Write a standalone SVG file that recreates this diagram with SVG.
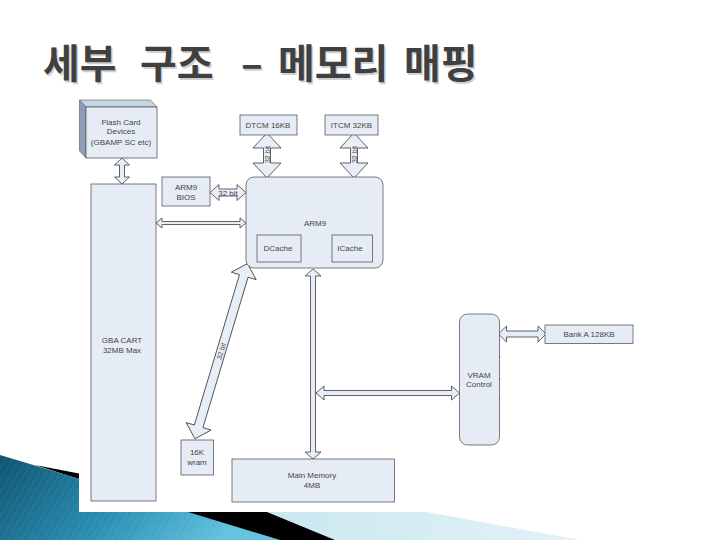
<svg xmlns="http://www.w3.org/2000/svg" width="720" height="540" viewBox="0 0 720 540">
<defs>
<linearGradient id="teal" x1="0" y1="0" x2="1" y2="0.3">
<stop offset="0" stop-color="#0f5470"/>
<stop offset="0.55" stop-color="#2a8fb3"/>
<stop offset="1" stop-color="#62c4de"/>
</linearGradient>
<linearGradient id="light" x1="0" y1="0" x2="1" y2="0">
<stop offset="0" stop-color="#bfe2ed"/>
<stop offset="1" stop-color="#e3f2f7"/>
</linearGradient>
<pattern id="hatch" width="6" height="6" patternUnits="userSpaceOnUse" patternTransform="rotate(30)">
<line x1="0" y1="0" x2="0" y2="6" stroke="#ffffff" stroke-opacity="0.12" stroke-width="1"/>
</pattern>
<style>
.box{fill:#e6ecf5;stroke:#5a5a5a;stroke-width:0.8}
.arw{fill:#e8eef7;stroke:#3c3c3c;stroke-width:0.8;stroke-linejoin:miter}
.t{font-family:"Liberation Sans",Arial,sans-serif;font-size:8px;fill:#444;text-anchor:middle}
.title{font-family:"Noto Sans CJK KR","Noto Sans",sans-serif;font-size:40px;font-weight:bold}
</style>
</defs>
<rect width="720" height="540" fill="#ffffff"/>
<g id="decoration">
<polygon points="120,478 427,512 580,540 335,540 267,512" fill="url(#light)"/>
<polygon points="35,465 190,495 267,512 335,540 270,540" fill="#000000"/>
<polygon points="0,455 60,473 280,540 0,540" fill="url(#teal)"/>
<polygon points="0,455 60,473 280,540 0,540" fill="url(#hatch)"/>
</g>
<rect id="image-bg" x="79" y="95" width="560" height="417" fill="#ffffff"/>
<g id="title">
<text class="title" y="78" fill="#d0d0d0" transform="translate(1.5,1.5)"><tspan x="43">세부</tspan><tspan x="140">구조</tspan><tspan x="241">–</tspan><tspan x="278">메모리</tspan><tspan x="404">매핑</tspan></text>
<text class="title" y="78" fill="#404040"><tspan x="43">세부</tspan><tspan x="140">구조</tspan><tspan x="241">–</tspan><tspan x="278">메모리</tspan><tspan x="404">매핑</tspan></text>
</g>
<g id="connectors">
<polygon class="arw" points="122,158 129.5,165 124.5,165 124.5,177 129.5,177 122,184 114.5,177 119.5,177 119.5,165 114.5,165"/>
<polygon class="arw" points="267,133 281,148 270.5,148 270.5,163 281,163 267,178 253,163 263.5,163 263.5,148 253,148"/>
<text class="t" style="font-size:7px" transform="translate(267,154.5) rotate(-90)" dy="2.5">32 bit</text>
<polygon class="arw" points="354,133 368,148 357.5,148 357.5,163 368,163 354,178 340,163 350.5,163 350.5,148 340,148"/>
<text class="t" style="font-size:7px" transform="translate(354,154.5) rotate(-90)" dy="2.5">32 bit</text>
<polygon class="arw" points="210,192.5 219,184.5 219,189 237,189 237,184.5 246,192.5 237,200.5 237,196 219,196 219,200.5"/>
<text class="t" x="228" y="195.5">32 bit</text>
<polygon class="arw" points="156,223 162,218 162,221.5 240,221.5 240,218 246,223 240,228 240,224.5 162,224.5 162,228"/>
<g transform="translate(247.5,263.5) rotate(16.7)">
<polygon class="arw" points="0,0 13,13 4.5,13 4.5,170 13,170 0,183 -13,170 -4.5,170 -4.5,13 -13,13"/>
<text class="t" style="font-size:7px" transform="translate(0,91.5) rotate(-90)" dy="2.5">32 bit</text>
</g>
<polygon class="arw" points="313,269 321,276 315.5,276 315.5,452 321,452 313,459 305,452 310.5,452 310.5,276 305,276"/>
<polygon class="arw" points="316,393 324,386 324,390.5 451.5,390.5 451.5,386 459.5,393 451.5,400 451.5,395.5 324,395.5 324,400"/>
<polygon class="arw" points="498.5,334 506.5,326 506.5,331 538,331 538,326 546,334 538,342 538,337 506.5,337 506.5,342"/>
</g>
<g id="flash">
<polygon points="79.5,100 150.5,100 157,107 86,107" fill="#c9d4e3" stroke="#5a5a5a" stroke-width="0.6"/>
<polygon points="79.5,100 86,107 86,158 79.5,151" fill="#8c9db5" stroke="#5a5a5a" stroke-width="0.6"/>
<rect class="box" x="86" y="107" width="71" height="51"/>
<text class="t" x="121" y="125">Flash Card</text>
<text class="t" x="121" y="134">Devices</text>
<text class="t" x="121" y="144.5">(GBAMP SC etc)</text>
</g>
<g id="gba">
<rect class="box" x="91" y="184" width="65" height="317"/>
<text class="t" x="122" y="343">GBA CART</text>
<text class="t" x="122" y="353">32MB Max</text>
</g>
<g id="bios">
<rect class="box" x="162" y="177" width="48" height="29"/>
<text class="t" x="186" y="190">ARM9</text>
<text class="t" x="186" y="200">BIOS</text>
</g>
<g id="dtcm">
<rect class="box" x="240" y="115" width="57" height="20"/>
<text class="t" x="268" y="127.5">DTCM 16KB</text>
</g>
<g id="itcm">
<rect class="box" x="325" y="115" width="53" height="20"/>
<text class="t" x="351.5" y="127.5">ITCM 32KB</text>
</g>
<g id="arm9">
<rect class="box" x="246" y="177" width="137" height="91" rx="8"/>
<text class="t" x="315" y="226">ARM9</text>
<g id="dcache">
<rect class="box" x="257" y="235" width="44" height="27"/>
<text class="t" x="278" y="251">DCache</text>
</g>
<g id="icache">
<rect class="box" x="332" y="235" width="40.5" height="27"/>
<text class="t" x="350" y="251">ICache</text>
</g>
</g>
<g id="wram">
<rect class="box" x="181" y="440" width="32.5" height="35"/>
<text class="t" x="197" y="454.5">16K</text>
<text class="t" x="197" y="464.5">wram</text>
</g>
<g id="mainmem">
<rect class="box" x="232" y="459" width="162.5" height="43"/>
<text class="t" x="312" y="478">Main Memory</text>
<text class="t" x="312" y="487.5">4MB</text>
</g>
<g id="vram">
<rect class="box" x="459.5" y="314" width="40" height="131" rx="8"/>
<text class="t" x="479" y="378">VRAM</text>
<text class="t" x="479" y="387">Control</text>
<g stroke="#555" stroke-width="1">
<line x1="499.5" y1="356" x2="499.5" y2="358"/>
<line x1="499.5" y1="378" x2="499.5" y2="380"/>
<line x1="499.5" y1="397" x2="499.5" y2="399"/>
</g>
</g>
<g id="banka">
<rect class="box" x="545" y="325" width="88" height="18.5"/>
<text class="t" x="589" y="337">Bank A 128KB</text>
</g>
</svg>
